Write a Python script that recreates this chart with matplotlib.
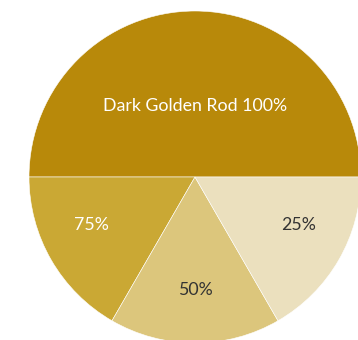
import matplotlib
matplotlib.use("Agg")
import matplotlib.pyplot as plt
import numpy as np

# slice data
labels = ["Dark Golden Rod 100%", "75%", "50%", "25%"]
values = [3, 1, 1, 1]
colors = ["#B8890A", "#CAA834", "#DCC67C", "#EBE0BE"]
text_colors = ["white", "white", "#333333", "#333333"]

fig = plt.figure(figsize=(3.58, 3.40), dpi=100)
ax = fig.add_axes([29 / 358, -3 / 340, 332 / 358, 332 / 340])

wedges, _ = ax.pie(values, colors=colors, startangle=0, counterclock=True,
                   radius=1, wedgeprops=dict(edgecolor="white", linewidth=0.4))
ax.set_xlim(-1, 1); ax.set_ylim(-1, 1)
ax.set_aspect("equal"); ax.axis("off")

# label placement: radius factor and angle shift (deg) per slice
label_r = [0.43, 0.69, 0.68, 0.69]
label_shift = [0, -5, 0, 5]
for w, lab, tc, r, sh in zip(wedges, labels, text_colors, label_r, label_shift):
    ang = np.deg2rad((w.theta1 + w.theta2) / 2 + sh)
    ax.text(r * np.cos(ang), r * np.sin(ang), lab, ha="center", va="center",
            fontsize=12.8, color=tc, family="Lato")

fig.savefig("out.png", dpi=100)
